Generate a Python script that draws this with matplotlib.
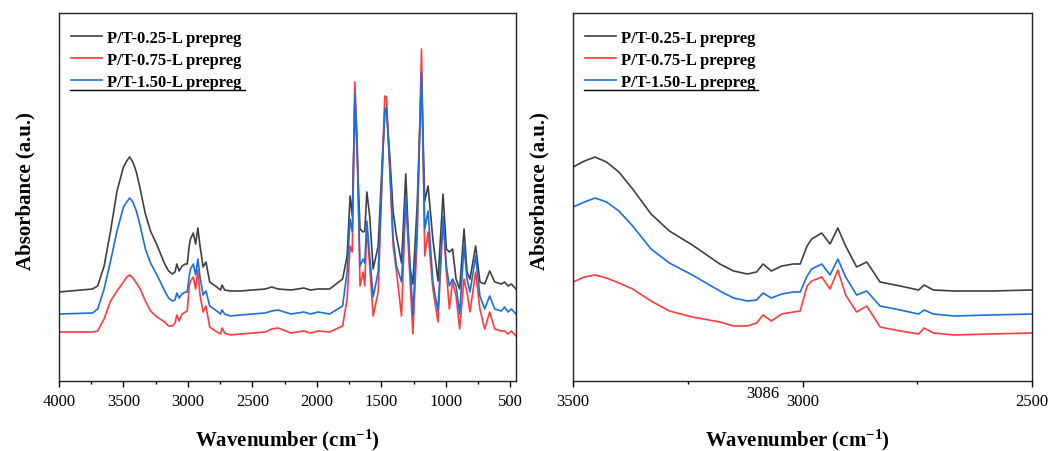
import numpy as np
import matplotlib
matplotlib.use("Agg")
import matplotlib.pyplot as plt
from matplotlib.ticker import MultipleLocator

plt.rcParams['font.family'] = ['Liberation Serif', 'DejaVu Serif']
plt.rcParams['mathtext.fontset'] = 'custom'
plt.rcParams['mathtext.rm'] = 'Liberation Serif'
plt.rcParams['mathtext.bf'] = 'Liberation Serif:bold'
plt.rcParams['mathtext.default'] = 'bf'

# ---- data (wavenumber, cm-1) ----
wavenumber = [4000, 3740, 3700, 3650, 3600, 3550, 3500, 3475, 3452, 3427, 3400, 3370, 3330, 3290,
              3240, 3180, 3150, 3120, 3100, 3086, 3068, 3045, 3020, 3005, 2990, 2980,
              2958, 2940, 2923, 2906, 2882, 2860, 2831, 2787, 2747, 2735, 2715, 2670,
              2590, 2500, 2400, 2350, 2300, 2200, 2100, 2050, 1990, 1900, 1800, 1765,
              1742, 1725, 1705, 1688, 1665, 1641, 1628, 1612, 1590, 1563, 1524, 1491,
              1473, 1460, 1434, 1408, 1382, 1343, 1310, 1280, 1255, 1222, 1188, 1163,
              1137, 1100, 1060, 1021, 995, 972, 947, 920, 892, 858, 835, 812, 768, 735,
              698, 659, 620, 569, 543, 517, 491, 455]

abs_025 = [89, 92, 95, 115, 150, 190, 214, 220, 224, 219, 209, 192, 167, 150,
           136, 117, 110, 107, 109, 117, 110, 115, 117, 117, 135, 142,
           148, 137, 153, 135, 114, 119, 99, 95, 91, 96, 91, 90,
           90, 91, 92, 94, 92, 91, 93, 91, 92, 92, 102, 125,
           185, 165, 282, 230, 152, 149, 150, 189, 165, 112, 135, 225,
           268, 272, 225, 169, 145, 118, 207, 115, 97, 175, 305, 180,
           195, 142, 100, 187, 132, 129, 132, 102, 92, 152, 109, 102, 135, 99,
           97, 110, 99, 97, 99, 95, 97, 92]

abs_075 = [49, 49, 50, 62, 80, 90, 99, 104, 106, 103, 98, 92, 80, 70,
           64, 59, 55, 55, 58, 66, 60, 67, 69, 70, 95, 100,
           104, 92, 111, 86, 69, 75, 54, 50, 47, 53, 48, 46,
           47, 48, 49, 52, 53, 48, 50, 48, 50, 49, 55, 82,
           135, 129, 299, 242, 95, 109, 95, 155, 115, 65, 89, 215,
           285, 284, 209, 135, 109, 65, 182, 109, 47, 142, 332, 125,
           149, 92, 59, 162, 109, 72, 99, 85, 52, 102, 89, 69, 109, 72,
           52, 69, 52, 50, 50, 47, 50, 45]

abs_150 = [67, 68, 72, 92, 120, 150, 174, 179, 183, 179, 170, 155, 132, 118,
           106, 90, 83, 80, 81, 88, 83, 87, 89, 89, 105, 112,
           117, 106, 122, 104, 86, 90, 75, 71, 67, 71, 67, 65,
           66, 67, 68, 70, 71, 67, 69, 67, 69, 67, 75, 109,
           162, 149, 287, 242, 115, 122, 118, 160, 125, 84, 109, 215,
           270, 274, 215, 142, 115, 99, 185, 125, 65, 155, 309, 152,
           170, 99, 70, 165, 115, 95, 102, 95, 67, 135, 102, 89, 125, 85,
           72, 85, 72, 70, 74, 69, 72, 67]

series_labels = ['P/T-0.25-L prepreg', 'P/T-0.75-L prepreg', 'P/T-1.50-L prepreg']
series_colors = ['#404040', '#ff3b3b', '#1a6fe0']
series_values = [abs_025, abs_075, abs_150]

left_ticks = [4000, 3500, 3000, 2500, 2000, 1500, 1000, 500]
right_ticks = [3500, 3000, 2500]
annot_text = '3086'
annot_x = 3086

fig = plt.figure(figsize=(10.5, 4.52), dpi=100)
W, H = 1050, 452
axL = fig.add_axes([59 / W, 1 - 382 / H, 457 / W, 368 / H])
axR = fig.add_axes([573 / W, 1 - 382 / H, 459 / W, 368 / H])

for ax in (axL, axR):
    for lab, col, vals in zip(series_labels, series_colors, series_values):
        ax.plot(wavenumber, vals, color=col, lw=1.2, label=lab)
    ax.set_ylim(0, 368)
    ax.set_yticks([])
    for s in ax.spines.values():
        s.set_linewidth(1.0)
        s.set_color('#222222')
    ax.tick_params(axis='x', direction='out', length=4, width=1, pad=5,
                   labelsize=12, top=False)
    ax.tick_params(axis='x', which='minor', direction='out', length=2.5, width=1, top=False)
    ax.set_xlabel('Wavenumber (cm$^{-1}$)', fontsize=15, fontweight='bold')
    ax.set_ylabel('Absorbance (a.u.)', fontsize=15, fontweight='bold')
    ax.xaxis.label.set_va('center')
    leg = ax.legend(loc='upper left', bbox_to_anchor=(0.026, 0.955), frameon=False,
                    prop={'family': 'Liberation Serif', 'weight': 'bold', 'size': 12},
                    handlelength=1.85, handletextpad=0.3, labelspacing=0.38,
                    borderpad=0, borderaxespad=0)

axL.set_xlim(4000, 455)
axL.set_xticks(left_ticks)
axL.xaxis.set_minor_locator(MultipleLocator(250))
axL.xaxis.set_label_coords(0.5, -0.16)
axL.yaxis.set_label_coords(-0.051, 0.52)
axL.plot([0.024, 0.407], [0.792, 0.792], transform=axL.transAxes, color='black', lw=1.0)

axR.set_xlim(3500, 2500)
axR.set_xticks(right_ticks)
axR.xaxis.set_minor_locator(MultipleLocator(250))
axR.xaxis.set_label_coords(0.49, -0.16)
axR.yaxis.set_label_coords(-0.052, 0.52)
axR.plot([0.024, 0.403], [0.792, 0.792], transform=axR.transAxes, color='black', lw=1.0)
axR.text(annot_x, -0.01, annot_text, transform=axR.get_xaxis_transform(),
         ha='center', va='top', fontsize=12)

fig.savefig('out.png', dpi=100)
